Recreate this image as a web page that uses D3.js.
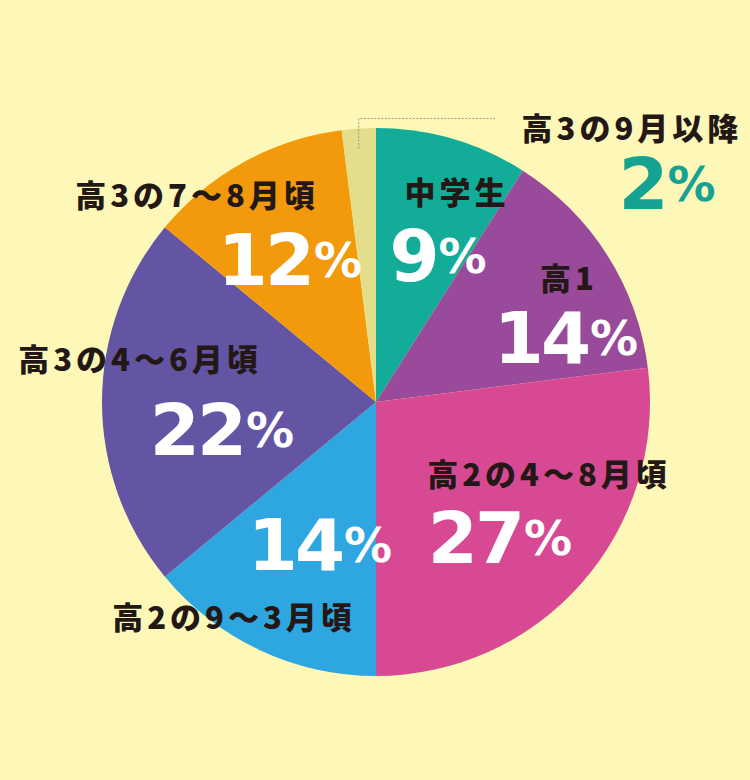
<!DOCTYPE html>
<html><head><meta charset="utf-8">
<script src="https://cdn.jsdelivr.net/npm/d3@7/dist/d3.min.js"></script>
<style>
html,body{margin:0;padding:0;background:#FDF8B8;}
svg{display:block;}
</style></head>
<body>
<svg id="chart" width="750" height="780"></svg>
<script>
const categories = ["中学生","高1","高2の4〜8月頃","高2の9〜3月頃","高3の4〜6月頃","高3の7〜8月頃","高3の9月以降"];
const values = [9,14,27,14,22,12,2];
const colors = ["#13AC98","#994A9B","#D74A93","#2EA7E0","#6455A4","#F29A0C","#E3DE8B"];
const pctColors = ["#fff","#fff","#fff","#fff","#fff","#fff","#16A293"];
// label layout relative to pie centre: [nameX, nameY, pctX, pctY]
const labelLayout = [
  [81,-212, 62,-146],
  [193,-126, 190,-64],
  [173,70, 124,136],
  [-142,213, -56,143],
  [-236,-45, -154,28],
  [-179,-209, -86,-142],
  [256,-276, 291,-218]
];

const svg = d3.select("#chart");
svg.append("rect").attr("width",750).attr("height",780).attr("fill","#FDF8B8");
const cx = 376, cy = 402, R = 274;
const g = svg.append("g").attr("transform",`translate(${cx},${cy})`);

const pie = d3.pie().value(d=>d).sort(null).startAngle(0).endAngle(2*Math.PI);
const arcs = pie(values);
const arc = d3.arc().innerRadius(0).outerRadius(R);

g.selectAll("path.slice").data(arcs).join("path")
  .attr("class","slice")
  .attr("d",arc)
  .attr("fill",(d,i)=>colors[i]);

// leader line for the small slice
const small = arcs[6];
const midA = (small.startAngle+small.endAngle)/2;
const lx = R*Math.sin(midA), ly = -R*Math.cos(midA);
g.append("path")
  .attr("d",`M${lx},${ly+20} L${lx},${ly-10} L${119},${ly-10}`)
  .attr("fill","none").attr("stroke","#9a9a8a").attr("stroke-width",1)
  .attr("stroke-dasharray","2,1.5");

const jp = "'Noto Sans CJK JP','Noto Sans',sans-serif";
const num = "'DejaVu Sans','Noto Sans',sans-serif";

categories.forEach((c,i)=>{
  const L = labelLayout[i];
  g.append("text")
    .attr("x",L[0]).attr("y",L[1])
    .attr("text-anchor","middle").attr("dominant-baseline","central")
    .attr("font-family",jp).attr("font-weight",900).attr("font-size",31)
    .attr("letter-spacing",4)
    .attr("fill","#231815")
    .text(c);
  const t = g.append("text")
    .attr("x",L[2]).attr("y",L[3])
    .attr("text-anchor","middle").attr("dominant-baseline","central")
    .attr("fill",pctColors[i]);
  t.append("tspan").attr("font-family",num).attr("font-weight",700).attr("font-size",72)
    .attr("letter-spacing",-3).text(values[i]);
  t.append("tspan").attr("font-family",num).attr("font-weight",700).attr("font-size",48)
    .attr("dx",2).text("%");
});
</script>
</body></html>
